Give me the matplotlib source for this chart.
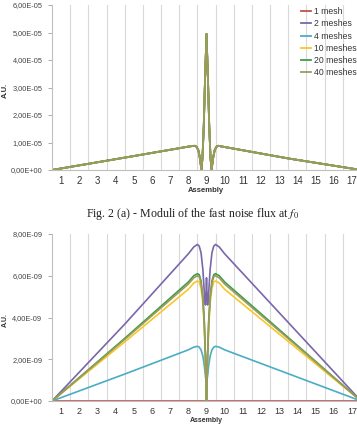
import matplotlib
matplotlib.use("Agg")
import matplotlib.pyplot as plt
import numpy as np

plt.rcParams["font.family"] = ["Liberation Sans", "DejaVu Sans"]
plt.rcParams["mathtext.fontset"] = "stix"

SERIES = ["1 mesh", "2 meshes", "4 meshes", "10 meshes", "20 meshes", "40 meshes"]
COLORS = ["#C0504D", "#7B66AA", "#4BACC6", "#F7C72A", "#3F9C4C", "#9E9B5A"]

ASSEMBLIES = list(range(1, 18))

# --- panel (a): fast noise flux at f0 (all mesh refinements coincide), units 1e-5
X_TOP = [0.5, 4.5, 8.0, 8.2, 8.35, 8.45, 8.55, 8.62, 8.68, 8.72, 8.78, 8.85, 8.92,
         9.0, 9.08, 9.15, 9.22, 9.28, 9.32, 9.38, 9.45, 9.55, 9.65, 9.8, 13.5, 17.5]
FLUX_TOP = [0.0, 0.45, 0.85, 0.87, 0.88, 0.85, 0.72, 0.50, 0.22, 0.0, 0.45, 1.6, 3.3,
            4.95, 3.3, 1.6, 0.45, 0.0, 0.22, 0.50, 0.72, 0.85, 0.88, 0.86, 0.42, 0.0]

# --- panel (b), units 1e-9
X_BOT = [0.5, 4.5, 8.0, 8.3, 8.5, 8.6, 8.7, 8.8, 8.88, 8.94, 8.97, 9.0,
         9.03, 9.06, 9.12, 9.2, 9.3, 9.4, 9.5, 9.7, 10.0, 17.5]
MESH_1 = [0.0] * 22
MESH_2 = [0.0, 3.68, 7.05, 7.38, 7.5, 7.42, 7.1, 6.3, 5.2, 4.6, 5.0, 5.9,
          5.0, 4.6, 5.2, 6.3, 7.1, 7.42, 7.5, 7.38, 7.05, 0.0]
MESH_4 = [0.0, 1.29, 2.45, 2.58, 2.62, 2.58, 2.45, 2.15, 1.7, 1.2, 1.0, 0.9,
          1.0, 1.2, 1.7, 2.15, 2.45, 2.58, 2.62, 2.58, 2.45, 0.0]
MESH_10 = [0.0, 2.83, 5.35, 5.65, 5.75, 5.7, 5.4, 4.7, 3.5, 2.0, 1.0, 0.0,
           1.0, 2.0, 3.5, 4.7, 5.4, 5.7, 5.75, 5.65, 5.35, 0.0]
MESH_20 = [0.0, 3.0, 5.7, 6.0, 6.1, 6.05, 5.75, 5.0, 3.8, 2.2, 1.1, 0.0,
           1.1, 2.2, 3.8, 5.0, 5.75, 6.05, 6.1, 6.0, 5.7, 0.0]
MESH_40 = [0.0, 2.95, 5.6, 5.9, 6.0, 5.95, 5.65, 4.9, 3.7, 2.1, 1.05, 0.0,
           1.05, 2.1, 3.7, 4.9, 5.65, 5.95, 6.0, 5.9, 5.6, 0.0]
BOT_SERIES = [MESH_1, MESH_2, MESH_4, MESH_10, MESH_20, MESH_40]

TOP_YTICKS = [0, 1e-5, 2e-5, 3e-5, 4e-5, 5e-5, 6e-5]
TOP_YLABELS = ["0,00E+00", "1,00E-05", "2,00E-05", "3,00E-05", "4,00E-05", "5,00E-05", "6,00E-05"]
BOT_YTICKS = [0, 2e-9, 4e-9, 6e-9, 8e-9]
BOT_YLABELS = ["0,00E+00", "2,00E-09", "4,00E-09", "6,00E-09", "8,00E-09"]

W, H = 357, 432
fig = plt.figure(figsize=(W / 100, H / 100), dpi=100)


def style_axes(ax, yticks, ylabels, ysize, xsize):
    ax.set_xlim(0.5, 17.5)
    ax.set_ylim(yticks[0], yticks[-1])
    ax.set_xticks(ASSEMBLIES)
    ax.set_xticklabels([str(a) for a in ASSEMBLIES], fontsize=xsize, color="#333333")
    ax.set_xticks(np.arange(1.5, 17.5, 1.0), minor=True)
    ax.tick_params(axis="x", which="both", length=0, pad=4)
    ax.grid(axis="x", which="minor", color="#D9D9D9", linewidth=0.8)
    ax.set_yticks(yticks)
    ax.set_yticklabels(ylabels, fontsize=ysize, color="#444444")
    ax.tick_params(axis="y", length=3, width=0.6, color="#A0A0A0", pad=4)
    for s in ("top", "right"):
        ax.spines[s].set_visible(False)
    ax.spines["left"].set_color("#BFBFBF")
    ax.spines["bottom"].set_color("#BFBFBF")
    ax.spines["left"].set_linewidth(0.8)
    ax.spines["bottom"].set_linewidth(0.8)
    ax.set_axisbelow(True)


# top panel
ax1 = fig.add_axes([52 / W, 1 - 170 / H, 309 / W, 165 / H])
top_vals = [v * 1e-5 for v in FLUX_TOP]
for name, c in zip(SERIES, COLORS):
    ax1.plot(X_TOP, top_vals, color=c, linewidth=1.3, label=name)
style_axes(ax1, TOP_YTICKS, TOP_YLABELS, 5.3, 7)
ax1.legend(loc="upper left", bbox_to_anchor=(301 / W, 1 - 7 / H), bbox_transform=fig.transFigure,
           frameon=False, fontsize=6.2, handlelength=1.2, handletextpad=0.3,
           labelspacing=0.38, borderaxespad=0, borderpad=0, labelcolor="#333333")

fig.text(206 / W, 1 - 190 / H, "Assembly", ha="center", va="center", fontsize=5.5,
         fontweight="bold", color="#333333")
fig.text(5 / W, 1 - 90 / H, "A.U.", ha="center", va="center", rotation=90, fontsize=5.5,
         fontweight="bold", color="#333333")

fig.text(193 / W, 1 - 214 / H, r"Fig. 2 (a) - Moduli of the fast noise flux at $\mathit{f_0}$",
         ha="center", va="center", fontsize=8.6, family="Liberation Serif", color="#222222")

# bottom panel
ax2 = fig.add_axes([52 / W, 1 - 401 / H, 309 / W, 167 / H])
for name, vals, c in zip(SERIES, BOT_SERIES, COLORS):
    ax2.plot(X_BOT, [v * 1e-9 for v in vals], color=c, linewidth=1.2, label=name)
style_axes(ax2, BOT_YTICKS, BOT_YLABELS, 5.3, 6.5)

fig.text(206 / W, 1 - 421 / H, "Assembly", ha="center", va="center", fontsize=5.0,
         fontweight="bold", color="#333333")
fig.text(5 / W, 1 - 320 / H, "A.U.", ha="center", va="center", rotation=90, fontsize=5.0,
         fontweight="bold", color="#333333")

fig.savefig("out.png", dpi=100)
